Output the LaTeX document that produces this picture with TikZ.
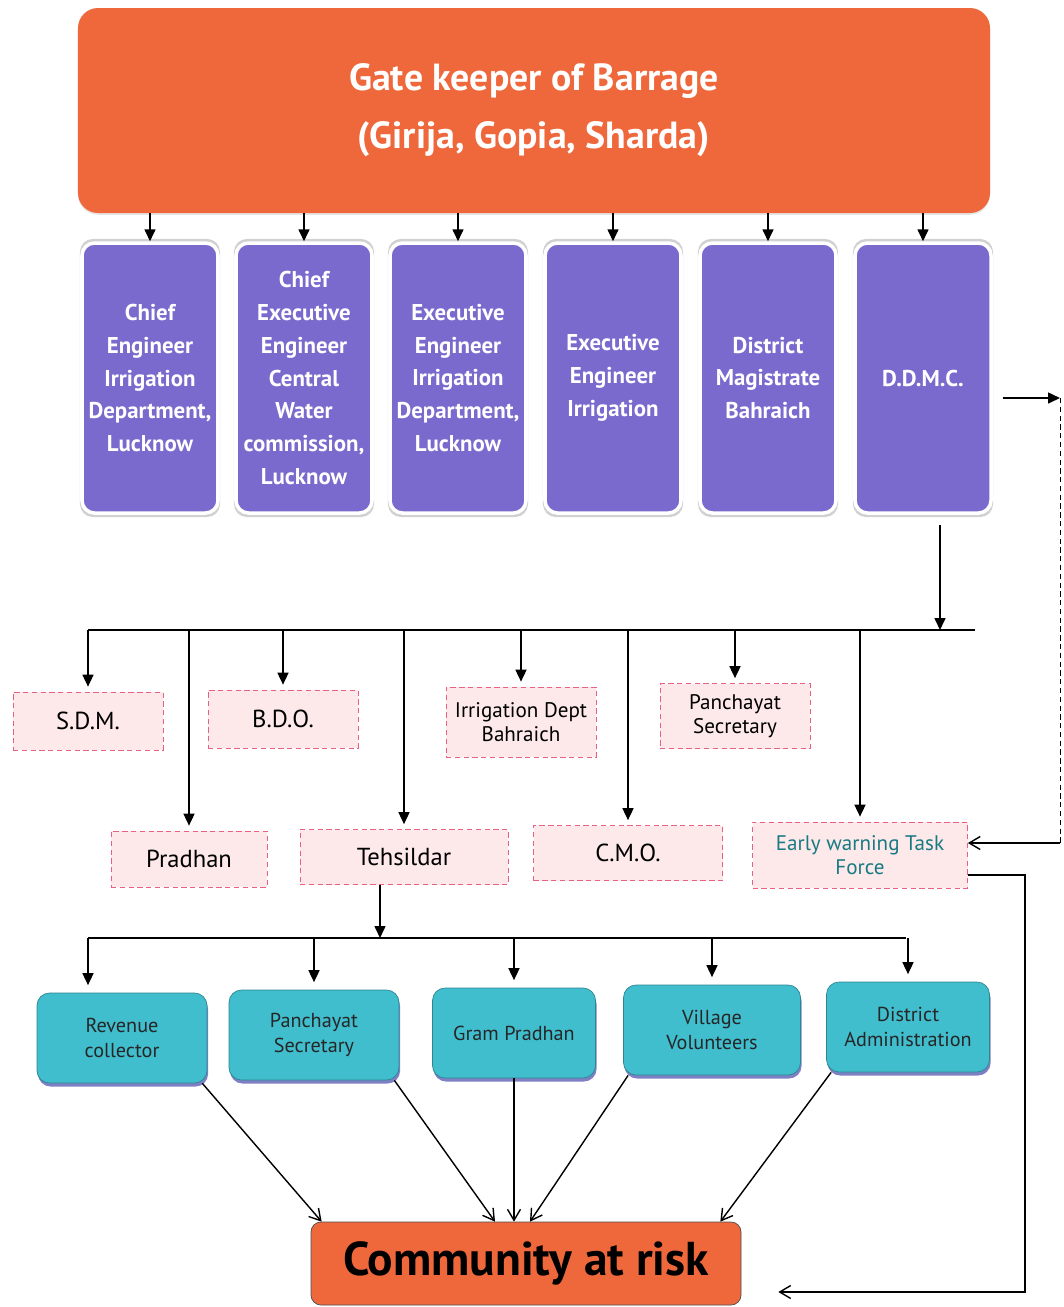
\documentclass[tikz,border=0pt]{standalone}
\usepackage{fontspec}
\setmainfont{PT Sans}
\usetikzlibrary{arrows.meta,positioning,shadows}

\definecolor{gateorange}{RGB}{239,104,60}
\definecolor{offpurple}{RGB}{122,106,206}
\definecolor{fieldteal}{RGB}{64,190,206}
\definecolor{pinkfill}{RGB}{253,233,233}
\definecolor{pinkedge}{RGB}{232,96,132}
\definecolor{ewtext}{RGB}{24,122,130}

\begin{document}
\begin{tikzpicture}[
    font=\fontsize{12}{14}\selectfont,
    gatebox/.style={rectangle, rounded corners=4mm, fill=gateorange, draw=none, text=white,
                    minimum width=18.24cm, minimum height=4.1cm, align=center,
                    font=\bfseries\fontsize{21.5}{33}\selectfont,
                    drop shadow={fill=black!20, shadow xshift=0pt, shadow yshift=-1pt}},
    offbox/.style={rectangle, rounded corners=2.5mm, fill=offpurple, draw=white, line width=2pt,
                   text=white, minimum width=2.72cm, minimum height=5.4cm, align=center,
                   font=\bfseries\fontsize{13}{18.7}\selectfont,
                   general shadow={fill=black!18, shadow scale=1.03}},
    pinkbox/.style={rectangle, draw=pinkedge, densely dashed, fill=pinkfill, align=center,
                    minimum width=3cm, minimum height=1.16cm, font=\fontsize{12}{13.5}\selectfont},
    bigpink/.style={pinkbox, font=\fontsize{14}{16}\selectfont},
    tealbox/.style={rectangle, rounded corners=2.5mm, fill=fieldteal, draw=fieldteal!70!black,
                    line width=0.4pt, minimum width=3.4cm, minimum height=1.8cm, align=center,
                    text=black!85, font=\fontsize{11.5}{14}\selectfont,
                    drop shadow={fill=blue!55!black, shadow xshift=0.6pt, shadow yshift=-2pt}},
    riskbox/.style={rectangle, rounded corners=2mm, fill=gateorange, draw=black!70,
                    minimum width=8.6cm, minimum height=1.66cm, align=center,
                    font=\bfseries\fontsize{27}{30}\selectfont},
    arr/.style={-{Triangle[length=2.4mm,width=2.2mm]}, line width=0.9pt},
    opn/.style={-{Straight Barb[length=2.2mm,width=2.6mm]}, line width=0.8pt},
    bus/.style={line width=0.8pt}
]
\useasboundingbox (0,0) rectangle (21.26,-26.14);

% ---- Gate keeper ----
\node[gatebox] (gate) at (10.68,-2.21) {Gate keeper of Barrage\\(Girija, Gopia, Sharda)};

% ---- Officials informed by the gate keeper ----
\node[offbox] (ceid) at (3.0,-7.56) {Chief\\Engineer\\Irrigation\\Department,\\Lucknow};
\node[offbox] (cecw) at (6.08,-7.56) {Chief\\Executive\\Engineer\\Central\\Water\\commission,\\Lucknow};
\node[offbox] (eeid) at (9.16,-7.56) {Executive\\Engineer\\Irrigation\\Department,\\Lucknow};
\node[offbox] (eei) at (12.26,-7.56) {Executive\\Engineer\\Irrigation};
\node[offbox] (dm) at (15.36,-7.56) {District\\Magistrate\\Bahraich};
\node[offbox] (ddmc) at (18.46,-7.56) {D.D.M.C.};

\draw[arr] (gate.south -| ceid.north) -- (ceid.north);
\draw[arr] (gate.south -| cecw.north) -- (cecw.north);
\draw[arr] (gate.south -| eeid.north) -- (eeid.north);
\draw[arr] (gate.south -| eei.north) -- (eei.north);
\draw[arr] (gate.south -| dm.north) -- (dm.north);
\draw[arr] (gate.south -| ddmc.north) -- (ddmc.north);

% ---- District level ----
\coordinate (busA) at (1.76,-12.6);
\coordinate (busB) at (19.5,-12.6);
\coordinate (ddmcdrop) at (18.8,-12.6);

\node[bigpink] (sdm) at (1.76,-14.42) {S.D.M.};
\node[bigpink] (bdo) at (5.66,-14.38) {B.D.O.};
\node[pinkbox, minimum height=1.4cm] (irr) at (10.42,-14.44) {Irrigation Dept\\Bahraich};
\node[pinkbox, minimum height=1.3cm] (pss) at (14.7,-14.32) {Panchayat\\Secretary};
\node[bigpink, minimum width=3.12cm, minimum height=1.12cm] (pra) at (3.78,-17.18) {Pradhan};
\node[bigpink, minimum width=4.16cm, minimum height=1.1cm] (teh) at (8.08,-17.14) {Tehsildar};
\node[bigpink, minimum width=3.78cm, minimum height=1.1cm] (cmo) at (12.56,-17.06) {C.M.O.};
\node[pinkbox, minimum width=4.3cm, minimum height=1.32cm, text=ewtext] (ewtf) at (17.2,-17.1) {Early warning Task\\Force};

\draw[arr] ([yshift=-2mm]ddmcdrop |- ddmc.south) -- (ddmcdrop);
\draw[bus] (busA) -- (busB);
\draw[arr] (sdm.north |- busA) -- ([yshift=1mm]sdm.north);
\draw[arr] (pra.north |- busA) -- ([yshift=1mm]pra.north);
\draw[arr] (bdo.north |- busA) -- ([yshift=1mm]bdo.north);
\draw[arr] (teh.north |- busA) -- ([yshift=1mm]teh.north);
\draw[arr] (irr.north |- busA) -- ([yshift=1mm]irr.north);
\draw[arr] (cmo.north |- busA) -- ([yshift=1mm]cmo.north);
\draw[arr] (pss.north |- busA) -- ([yshift=1mm]pss.north);
\draw[arr] (ewtf.north |- busA) -- ([yshift=1mm]ewtf.north);

% ---- D.D.M.C. to task force ----
\coordinate (rtop) at (21.2,-7.96);
\coordinate (rbot) at (21.2,-16.86);
\draw[arr, shorten <=2mm] (rtop -| ddmc.east) -- (rtop);
\draw[densely dashed, line width=0.4pt] (rtop) -- (rbot);
\draw[opn] (rbot) -- (rbot -| ewtf.east);

% ---- Village level ----
\coordinate (tbusA) at (1.76,-18.76);
\coordinate (tbusB) at (18.12,-18.76);

\node[tealbox] (rev) at (2.44,-20.76) {Revenue\\collector};
\node[tealbox] (psec) at (6.28,-20.7) {Panchayat\\Secretary};
\node[tealbox, minimum width=3.26cm] (gram) at (10.28,-20.66) {Gram Pradhan};
\node[tealbox, minimum width=3.54cm] (vil) at (14.24,-20.6) {Village\\Volunteers};
\node[tealbox, minimum width=3.26cm] (dadm) at (18.16,-20.54) {District\\Administration};

\draw[arr] (teh.south -| 7.6,0) -- (7.6,-18.76);
\draw[bus] (tbusA) -- (tbusB);
\draw[arr] (tbusA) -- ([yshift=1.5mm]tbusA |- rev.north);
\draw[arr] (psec.north |- tbusA) -- ([yshift=1.5mm]psec.north);
\draw[arr] (gram.north |- tbusA) -- ([yshift=1.5mm]gram.north);
\draw[arr] (vil.north |- tbusA) -- ([yshift=1.5mm]vil.north);
\draw[arr] (dadm.north |- tbusA) -- ([yshift=1.5mm]dadm.north);

% ---- Community at risk ----
\node[riskbox] (comm) at (10.52,-25.27) {Community at risk};

\draw[opn] ([xshift=-1mm]rev.south east) -- ([xshift=2.2mm]comm.north west);
\draw[opn] ([xshift=-1mm]psec.south east) -- ([xshift=-6.2mm]comm.north);
\draw[opn] (gram.south) -- (gram.south |- comm.north);
\draw[opn] ([xshift=1mm]vil.south west) -- ([xshift=0.8mm]comm.north);
\draw[opn] ([xshift=1mm]dadm.south west) -- ([xshift=-4.2mm]comm.north east);

% ---- Task force to community ----
\coordinate (elbow) at (20.5,-25.84);
\draw[opn] ([yshift=-4mm]ewtf.east) -| (elbow) -- ([xshift=7.4mm]comm.east |- elbow);

\end{tikzpicture}
\end{document}
